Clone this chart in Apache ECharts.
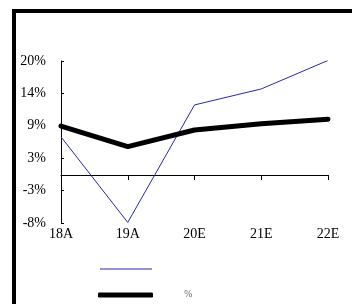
<!DOCTYPE html>
<html><head><meta charset="utf-8">
<script src="https://cdn.jsdelivr.net/npm/echarts@6/dist/echarts.min.js"></script>
<style>html,body{margin:0;padding:0;background:#fff}#c{width:352px;height:304px}</style>
</head><body><div id="c"></div>
<script>
var categories = ['18A', '19A', '20E', '21E', '22E'];
var seriesAName = ' ';
var seriesBName = '%';
var seriesA = [6.7, -8.3, 12.3, 15.1, 20.1];
var seriesB = [8.6, 5.0, 7.9, 9.0, 9.8];
var yTickLabels = ['-8%', '-3%', '3%', '9%', '14%', '20%'];
var yMin = -8.4, yMax = 20;

var chart = echarts.init(document.getElementById('c'), null, {renderer: 'canvas'});
var font = 'Liberation Serif';
chart.setOption({
  animation: false,
  backgroundColor: '#fff',
  graphic: [
    {type: 'line', shape: {x1: 14, y1: 11, x2: 352, y2: 11}, style: {stroke: '#000', lineWidth: 4}},
    {type: 'line', shape: {x1: 14, y1: 9, x2: 14, y2: 304}, style: {stroke: '#000', lineWidth: 4}}
  ],
  grid: {left: 61, right: 24, top: 61, bottom: 81},
  legend: [
    {left: 95, top: 259.5, itemWidth: 52, itemHeight: 1, icon: 'rect',
     data: [{name: seriesAName}],
     textStyle: {fontFamily: 'DejaVu Sans', fontSize: 9, color: '#777'}},
    {left: 93, top: 285.5, itemWidth: 55, itemHeight: 5, icon: 'roundRect',
     data: [{name: seriesBName}],
     textStyle: {fontFamily: 'DejaVu Sans', fontSize: 9, color: '#777', padding: [0, 0, 0, 26]}}
  ],
  xAxis: [
    {type: 'category', data: categories, boundaryGap: false, position: 'bottom',
     axisLine: {show: false}, axisTick: {show: false},
     axisLabel: {fontFamily: font, fontSize: 14, color: '#000', margin: 4}},
    {type: 'category', data: categories, boundaryGap: false,
     axisLine: {onZero: true, onZeroAxisIndex: 0, lineStyle: {color: '#000', width: 1}},
     axisTick: {show: true, inside: true, length: 5, lineStyle: {color: '#000'}},
     axisLabel: {show: false}}
  ],
  yAxis: [
    {type: 'value', min: yMin, max: yMax, show: true,
     axisLine: {show: false}, axisTick: {show: false}, axisLabel: {show: false}, splitLine: {show: false}},
    {type: 'value', min: 0, max: yTickLabels.length - 1, interval: 1, position: 'left',
     axisLine: {show: true, lineStyle: {color: '#000', width: 1}},
     axisTick: {show: true, inside: true, length: 3, lineStyle: {color: '#000'}},
     splitLine: {show: false},
     axisLabel: {fontFamily: font, fontSize: 14, color: '#000', margin: 15,
       formatter: function (v) { return yTickLabels[Math.round(v)]; }}}
  ],
  series: [
    {name: seriesAName, type: 'line', data: seriesA, xAxisIndex: 0, yAxisIndex: 0,
     symbol: 'none', lineStyle: {color: '#2828a8', width: 1}, itemStyle: {color: '#2828a8'}},
    {name: seriesBName, type: 'line', data: seriesB, xAxisIndex: 0, yAxisIndex: 0,
     symbol: 'none', lineStyle: {color: '#000', width: 5, cap: 'round', join: 'round'}, itemStyle: {color: '#000'}}
  ]
});
</script></body></html>
